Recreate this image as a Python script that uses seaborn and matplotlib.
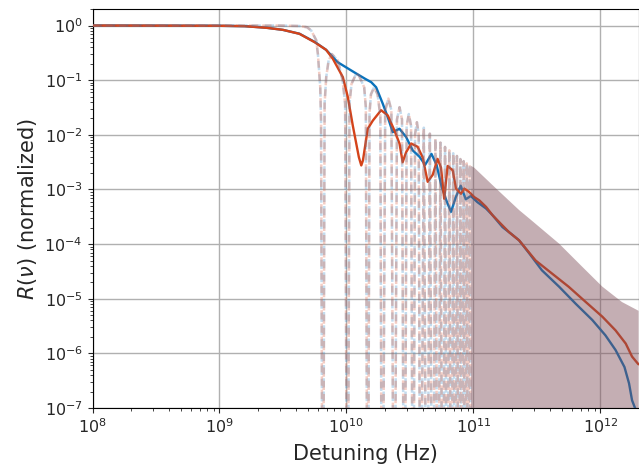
import numpy as np
import pandas as pd
import matplotlib
matplotlib.use("Agg")
import matplotlib.pyplot as plt
from matplotlib.ticker import LogLocator
import seaborn as sns

# ---------------- data ----------------
# measured response, blue trace
blue_freq_hz = [1e8, 1e9, 1.585e9, 2.344e9, 3.162e9, 4.266e9, 5.623e9, 6.918e9, 8.511e9,
                1.148e10, 1.413e10, 1.567e10, 1.714e10, 1.932e10, 2.118e10, 2.317e10, 2.618e10,
                2.951e10, 3.327e10, 3.758e10, 4.169e10, 4.677e10, 5.129e10, 5.623e10, 6.166e10,
                6.668e10, 7.244e10, 7.943e10, 8.710e10, 9.550e10, 1.072e11, 1.259e11, 1.413e11,
                1.698e11, 1.977e11, 2.291e11, 2.754e11, 3.467e11, 4.732e11, 6.383e11, 8.650e11,
                1.096e12, 1.318e12, 1.549e12, 1.683e12, 1.778e12, 1.905e12, 1.995e12]
blue_R = [1.0, 0.989, 0.973, 0.912, 0.832, 0.708, 0.501, 0.359, 0.214,
          0.140, 0.105, 0.0920, 0.0741, 0.0372, 0.0209, 0.0112, 0.0129,
          0.00912, 0.00519, 0.00398, 0.00282, 0.00447, 0.00282, 0.00112, 0.000603,
          0.000389, 0.000708, 0.00117, 0.000661, 0.000759, 0.000589, 0.000447, 0.000339,
          0.000204, 0.000155, 0.000117, 6.76e-5, 3.31e-5, 1.66e-5, 8.13e-6, 4.07e-6,
          2.14e-6, 1.15e-6, 5.62e-7, 2.82e-7, 1.38e-7, 9.1e-8, 6.3e-8]

# measured response, red trace
red_freq_hz = [1e8, 1e9, 1.585e9, 2.344e9, 3.162e9, 4.266e9, 5.623e9, 6.918e9, 7.816e9,
               9.376e9, 1.026e10, 1.122e10, 1.253e10, 1.309e10, 1.349e10, 1.472e10, 1.614e10,
               1.875e10, 2.118e10, 2.388e10, 2.618e10, 2.773e10, 2.951e10, 3.236e10, 3.639e10,
               3.981e10, 4.365e10, 4.786e10, 5.224e10, 5.559e10, 5.888e10, 6.266e10, 6.871e10,
               7.295e10, 7.980e10, 8.492e10, 9.290e10, 1.016e11, 1.114e11, 1.259e11, 1.413e11,
               1.648e11, 1.905e11, 2.291e11, 3.090e11, 4.169e11, 5.623e11, 7.674e11, 1.038e12,
               1.318e12, 1.585e12, 1.778e12, 1.995e12]
red_R = [1.0, 0.989, 0.973, 0.908, 0.834, 0.705, 0.495, 0.359, 0.246,
         0.1135, 0.0490, 0.0148, 0.00389, 0.00275, 0.00339, 0.0129, 0.0182,
         0.0282, 0.0226, 0.0120, 0.00692, 0.00316, 0.00479, 0.00692, 0.00603,
         0.00389, 0.00138, 0.00186, 0.00363, 0.00251, 0.000676, 0.00269, 0.00224,
         0.00104, 0.000832, 0.00104, 0.000891, 0.000724, 0.000631, 0.000479, 0.000339,
         0.000234, 0.000166, 0.000117, 5.01e-5, 2.88e-5, 1.66e-5, 8.71e-6, 4.68e-6,
         2.63e-6, 1.51e-6, 8.71e-7, 6.31e-7]

# theoretical response (dashed): main lobe points
theory_main_hz = [1e8, 1e9, 3.0e9, 4.266e9, 4.9e9, 5.28e9, 5.78e9, 5.96e9, 6.22e9, 6.31e9]
theory_main_R = [1.0, 1.0, 1.0, 0.98, 0.93, 0.81, 0.54, 0.30, 0.074, 0.018]
# nulls of the resolved side lobes
theory_null_hz = [6.52e9, 1.02e10, 1.47e10, 1.91e10, 2.38e10, 2.86e10, 3.35e10, 3.83e10,
                  4.30e10, 4.78e10, 5.26e10, 5.74e10, 6.22e10, 6.70e10, 7.18e10, 7.66e10,
                  8.14e10, 8.62e10, 9.10e10, 9.58e10]
# side-lobe tops
theory_peak_hz = [7.67e9, 1.194e10, 1.65e10, 2.14e10, 2.62e10, 3.10e10, 3.59e10, 4.07e10,
                  4.54e10, 5.02e10, 5.50e10, 5.98e10, 6.46e10, 6.94e10, 7.42e10, 7.90e10,
                  8.38e10, 8.86e10, 9.34e10]
theory_peak_R = [0.30, 0.132, 0.074, 0.046, 0.032, 0.024, 0.017, 0.0135,
                 0.0105, 0.0085, 0.0072, 0.0060, 0.0052, 0.0046, 0.0041, 0.0036,
                 0.0033, 0.0030, 0.0028]
# side-lobe flanks
theory_flank_hz = [6.73e9, 6.93e9, 7.24e9, 8.55e9, 9.33e9, 9.77e9,
                   1.057e10, 1.096e10, 1.259e10, 1.38e10, 1.422e10,
                   1.52e10, 1.56e10, 1.76e10, 1.85e10,
                   2.02e10, 2.26e10, 2.50e10, 2.74e10, 2.98e10, 3.23e10, 3.47e10, 3.71e10]
theory_flank_R = [0.037, 0.113, 0.23, 0.23, 0.10, 0.037,
                  0.037, 0.085, 0.12, 0.074, 0.032,
                  0.025, 0.055, 0.055, 0.022,
                  0.028, 0.028, 0.019, 0.019, 0.0145, 0.0145, 0.0102, 0.0102]
# envelope of the unresolved (dense) part of the dashed curve
theory_env_hz = [9.58e10, 1.016e11, 1.51e11, 2.29e11, 2.75e11, 4.73e11, 7.24e11,
                 1.038e12, 1.48e12, 1.95e12, 2.0e12]
theory_env_R = [0.0027, 0.0025, 0.00104, 0.00042, 0.000295, 1.02e-4, 3.8e-5,
                1.66e-5, 8.7e-6, 6.2e-6, 6.0e-6]
null_floor = 1e-12

# ---------------- styling ----------------
blue_c = "#0a72bb"
red_c = "#d4431a"
dash_blue = "#2a7fc0"
dash_red = "#d85a3c"
band_c = "#7e4d58"

sns.set_style("ticks")
plt.rcParams["font.family"] = ["DejaVu Sans"]
plt.rcParams["xtick.direction"] = "out"
plt.rcParams["ytick.direction"] = "out"

fig = plt.figure(figsize=(6.39, 4.66), dpi=100)
ax = fig.add_axes([0.1448, 0.1245, 0.8545, 0.8560])

ax.set_xscale("log")
ax.set_yscale("log")

# solid measured traces
df_blue = pd.DataFrame({"f": blue_freq_hz, "R": blue_R})
df_red = pd.DataFrame({"f": red_freq_hz, "R": red_R})
sns.lineplot(data=df_blue, x="f", y="R", ax=ax, color=blue_c, lw=1.7,
             estimator=None, sort=False, zorder=3)
sns.lineplot(data=df_red, x="f", y="R", ax=ax, color=red_c, lw=1.7,
             estimator=None, sort=False, zorder=3)

# dashed theory curve assembled from the read points
th = pd.DataFrame({
    "f": theory_main_hz + theory_null_hz + theory_peak_hz + theory_flank_hz,
    "R": theory_main_R + [null_floor] * len(theory_null_hz) + theory_peak_R + theory_flank_R,
}).sort_values("f")
sns.lineplot(data=th, x="f", y="R", ax=ax, color=dash_blue, alpha=0.28, lw=1.8,
             linestyle=(0, (3.7, 1.6)), estimator=None, sort=False, zorder=4)
sns.lineplot(data=th, x="f", y="R", ax=ax, color=dash_red, alpha=0.30, lw=1.8,
             linestyle=(1.0, (3.7, 1.6)), estimator=None, sort=False, zorder=4)
ax.fill_between(theory_env_hz, null_floor, theory_env_R, color=band_c, alpha=0.45,
                lw=0, zorder=4)

ax.set_xlim(1e8, 2e12)
ax.set_ylim(1e-7, 2)
ax.grid(True, which="major", color="#b0b0b0", lw=1.0)
ax.set_axisbelow(True)

ax.set_xlabel("Detuning (Hz)", fontsize=15, labelpad=5.5)
ax.set_ylabel(r"$R(\nu)$ (normalized)", fontsize=15)
ax.tick_params(axis="both", which="major", labelsize=11.5, length=3.5, width=0.8)
ax.tick_params(axis="both", which="minor", length=2, width=0.6)
ax.yaxis.set_major_locator(LogLocator(base=10, numticks=20))
ax.yaxis.set_minor_locator(LogLocator(base=10, subs=np.arange(2, 10), numticks=20))
for s in ax.spines.values():
    s.set_visible(True)
    s.set_linewidth(0.8)
    s.set_color("black")

fig.savefig("out.png", dpi=100)
